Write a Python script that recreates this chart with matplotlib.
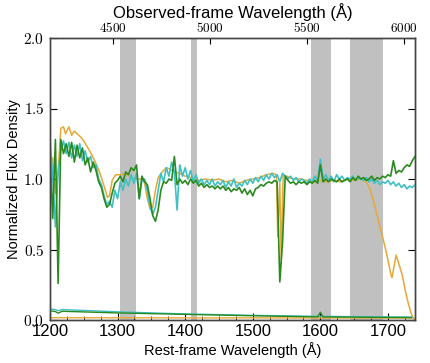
import numpy as np
import matplotlib
matplotlib.use("Agg")
import matplotlib.pyplot as plt
from matplotlib.ticker import MultipleLocator, FixedLocator, FuncFormatter

plt.rcParams['mathtext.fontset'] = 'cm'
plt.rcParams['font.family'] = ['Liberation Sans', 'DejaVu Sans']

# ---------------- data ----------------
redshift = 2.48
grid_start, grid_step = 1200, 4

green_flux = [
    1.20, 0.72, 1.28, 0.26, 1.28, 1.18, 1.25, 1.16, 1.26, 1.12,   # 1200-1236
    1.24, 1.15, 1.22, 1.10, 1.15, 1.05, 1.12, 1.06, 0.98, 0.94,   # 1240-1276
    0.86, 0.80, 0.82, 0.90, 0.97, 0.99, 1.02, 0.98, 1.05, 1.03,   # 1280-1316
    1.08, 1.06, 1.10, 0.86, 1.02, 0.98, 0.96, 0.86, 0.74, 0.70,   # 1320-1356
    0.78, 0.92, 0.98, 0.97, 1.00, 0.99, 1.16, 0.96, 1.00, 0.97,   # 1360-1396
    0.99, 0.96, 1.00, 0.97, 0.99, 0.95, 0.97, 0.94, 0.96, 0.94,   # 1400-1436
    0.95, 0.93, 0.95, 0.93, 0.95, 0.92, 0.94, 0.91, 0.93, 0.92,   # 1440-1476
    0.94, 0.90, 0.93, 0.89, 0.92, 0.88, 0.93, 0.94, 0.96, 0.95,   # 1480-1516
    0.97, 0.98, 0.97, 0.99, 0.98, 0.27, 0.55, 1.02, 0.99, 0.97,   # 1520-1556
    0.98, 0.96, 0.98, 0.97, 0.98, 0.96, 0.98, 0.97, 0.99, 0.97,   # 1560-1596
    1.10, 0.98, 1.00, 0.98, 1.00, 0.99, 0.98, 1.00, 0.98, 0.99,   # 1600-1636
    1.00, 0.98, 1.01, 0.99, 1.02, 1.00, 1.01, 0.99, 1.00, 1.02,   # 1640-1676
    0.99, 1.01, 1.00, 1.02, 1.01, 1.03, 1.02, 1.13, 1.04, 1.06,   # 1680-1716
    1.05, 1.08, 1.10, 1.09, 1.13, 1.16,                           # 1720-1740
]

cyan_flux = [
    1.28, 1.02, 0.66, 1.05, 1.20, 1.27, 1.18, 1.26, 1.15, 1.24,   # 1200-1236
    1.16, 1.25, 1.13, 1.20, 1.12, 1.16, 1.08, 1.10, 1.00, 0.96,   # 1240-1276
    0.88, 0.82, 0.84, 0.80, 0.92, 0.86, 0.98, 0.92, 1.00, 0.95,   # 1280-1316
    1.03, 0.97, 1.04, 0.86, 0.99, 1.00, 0.92, 0.80, 0.75, 0.80,   # 1320-1356
    0.92, 1.04, 0.98, 1.08, 1.02, 1.12, 1.05, 0.78, 1.10, 1.02,   # 1360-1396
    1.08, 1.00, 1.06, 0.98, 1.03, 0.97, 1.00, 0.96, 0.99, 0.96,   # 1400-1436
    1.00, 0.95, 0.98, 0.96, 0.99, 0.94, 0.98, 0.95, 1.00, 0.94,   # 1440-1476
    0.97, 0.95, 0.99, 0.96, 1.00, 0.97, 1.01, 0.98, 1.02, 0.99,   # 1480-1516
    1.03, 1.00, 1.04, 1.01, 1.03, 0.98, 1.04, 1.02, 1.00, 1.02,   # 1520-1556
    0.99, 1.01, 0.98, 1.00, 0.99, 0.97, 1.00, 0.98, 1.02, 0.99,   # 1560-1596
    1.14, 1.00, 1.03, 0.99, 1.02, 0.98, 1.03, 1.00, 1.02, 0.99,   # 1600-1636
    1.01, 1.00, 1.02, 0.99, 1.01, 1.00, 0.99, 1.01, 0.98, 1.00,   # 1640-1676
    0.97, 0.99, 0.96, 0.98, 0.97, 0.99, 0.96, 0.98, 0.95, 0.97,   # 1680-1716
    0.94, 0.96, 0.93, 0.95, 0.94, 0.96,                           # 1720-1740
]

orange_wave = [
    1200, 1204, 1208, 1212, 1216, 1220, 1223, 1228, 1232, 1236,
    1240, 1245, 1250, 1256, 1262, 1268, 1274, 1280, 1285, 1288,
    1292, 1297, 1305, 1312, 1320, 1328, 1336, 1340, 1344, 1348,
    1352, 1356, 1360, 1366, 1372, 1378, 1384, 1392, 1400, 1410,
    1420, 1430, 1440, 1450, 1460, 1470, 1480, 1490, 1500, 1510,
    1520, 1530, 1535, 1537, 1540, 1542, 1545, 1550, 1560, 1570,
    1580, 1590, 1600, 1610, 1620, 1630, 1640, 1650, 1660, 1668,
    1674, 1680, 1686, 1692, 1698, 1704, 1706, 1709, 1712, 1716,
    1721, 1726, 1730, 1734, 1738, 1742,
]
orange_flux = [
    1.10, 1.15, 0.90, 1.05, 1.36, 1.37, 1.32, 1.37, 1.31, 1.34,
    1.32, 1.30, 1.27, 1.22, 1.17, 1.11, 1.04, 0.95, 0.87, 0.88,
    0.99, 1.03, 1.03, 1.04, 1.01, 1.00, 1.00, 0.97, 0.86, 0.79,
    0.80, 0.92, 1.01, 1.05, 1.08, 1.07, 1.05, 1.04, 1.02, 1.01,
    0.99, 1.00, 0.99, 1.00, 0.98, 0.99, 0.97, 0.99, 1.00, 1.01,
    1.03, 1.04, 1.03, 0.59, 0.97, 0.43, 1.03, 1.02, 1.00, 1.00,
    0.99, 0.98, 0.99, 0.98, 0.99, 0.98, 1.00, 0.99, 1.00, 0.98,
    0.92, 0.82, 0.70, 0.59, 0.47, 0.33, 0.30, 0.38, 0.46, 0.40,
    0.32, 0.20, 0.12, 0.05, 0.01, 0.00,
]

# error spectra along the bottom
cyan_err_wave = [1200, 1208, 1212, 1218, 1300, 1400, 1500, 1600, 1700, 1735]
cyan_err = [0.078, 0.074, 0.066, 0.074, 0.058, 0.043, 0.033, 0.026, 0.022, 0.021]
green_err_wave = [1200, 1208, 1212, 1218, 1300, 1400, 1500, 1596, 1600, 1604, 1700, 1735]
green_err = [0.066, 0.060, 0.048, 0.062, 0.050, 0.040, 0.030, 0.022, 0.055, 0.022, 0.018, 0.017]
orange_err_wave = [1200, 1300, 1400, 1500, 1600, 1700, 1735]
orange_err = [0.016, 0.016, 0.015, 0.015, 0.014, 0.014, 0.014]

# masked regions (rest frame)
bands = [(1303.5, 1327.5), (1408, 1417.5), (1585.5, 1615), (1644, 1692.5)]

obs_ticks = [4500, 5000, 5500, 6000]

# ---------------- plot ----------------
green_wave = grid_start + grid_step * np.arange(len(green_flux))
cyan_wave = grid_start + grid_step * np.arange(len(cyan_flux))

c_orange = '#E8A838'
c_cyan = '#3EC0C4'
c_green = '#2B8A1F'

fig = plt.figure(figsize=(4.3, 3.63), dpi=100)
ax = fig.add_axes([50 / 430, 1 - 320 / 363, 365 / 430, 282 / 363])

for lo, hi in bands:
    ax.axvspan(lo, hi, color='#C0C0C0', lw=0, zorder=0)

ax.plot(orange_wave, orange_flux, color=c_orange, lw=1.1, zorder=2)
ax.plot(cyan_wave, cyan_flux, color=c_cyan, lw=1.2, zorder=3)
ax.plot(green_wave, green_flux, color=c_green, lw=1.2, zorder=4)
ax.plot(orange_err_wave, orange_err, color=c_orange, lw=1.0, zorder=2)
ax.plot(cyan_err_wave, cyan_err, color=c_cyan, lw=1.0, zorder=3)
ax.plot(green_err_wave, green_err, color=c_green, lw=1.0, zorder=4)

ax.set_xlim(1200, 1740)
ax.set_ylim(0, 2.0)

ax.xaxis.set_major_locator(MultipleLocator(100))
ax.xaxis.set_minor_locator(MultipleLocator(25))
ax.yaxis.set_major_locator(MultipleLocator(0.5))
ax.tick_params(axis='x', which='both', direction='in', top=False, labelsize=12, pad=3)
ax.tick_params(axis='x', which='major', length=5)
ax.tick_params(axis='x', which='minor', length=3)
ax.tick_params(axis='y', which='both', direction='in', right=True, length=5, pad=4,
               labelsize=11)
ax.yaxis.set_major_formatter(FuncFormatter(lambda v, p: r'$%.1f$' % v))

ax.set_xlabel('Rest-frame Wavelength (Å)', fontsize=10.5, labelpad=2)
ax.set_ylabel('Normalized Flux Density', fontsize=10.5, labelpad=2)

# observed-frame axis on top
top = ax.twiny()
top.set_xlim(1200 * (1 + redshift), 1740 * (1 + redshift))
top.xaxis.set_major_locator(FixedLocator(obs_ticks))
top.xaxis.set_major_formatter(FuncFormatter(lambda v, p: r'$%d$' % v))
top.tick_params(axis='x', direction='in', length=4, labelsize=9.5, pad=2)
top.set_xlabel('Observed-frame Wavelength (Å)', fontsize=12, labelpad=2)

for a in (ax, top):
    for s in a.spines.values():
        s.set_color('#444444')
        s.set_linewidth(1.0)

fig.savefig('out.png', dpi=100)
